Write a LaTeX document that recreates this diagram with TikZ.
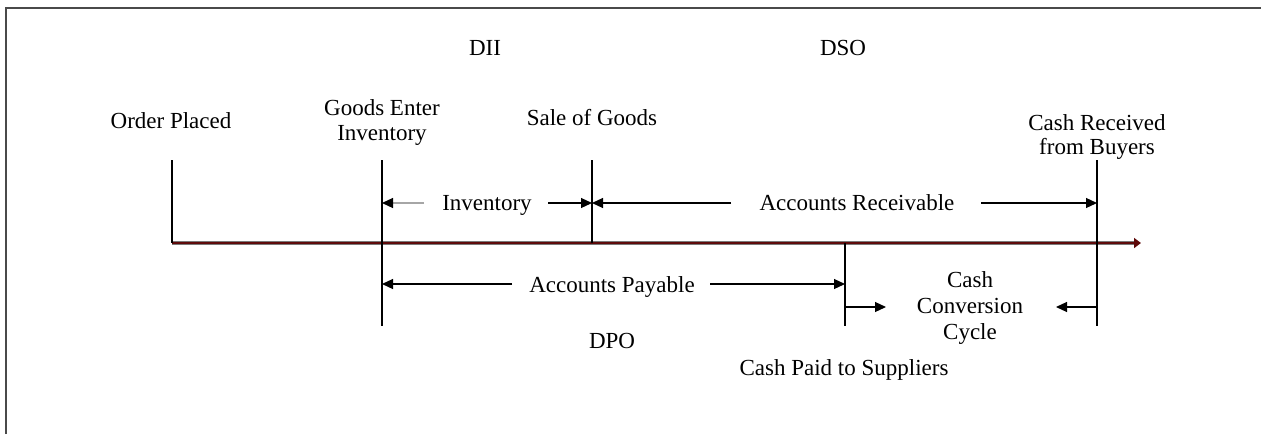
\documentclass[tikz,border=0pt]{standalone}
\usepackage{fontspec}
\setmainfont{Liberation Serif}
\usetikzlibrary{arrows.meta}
\definecolor{axisred}{HTML}{5E0A0A}
\definecolor{axisgray}{HTML}{7A7A7A}
\definecolor{framegray}{HTML}{4A4A4A}
\begin{document}
\begin{tikzpicture}[x=1pt,y=-1pt,
  lbl/.style={inner sep=0pt,anchor=base,align=center,font=\fontsize{23}{25}\selectfont,text=black},
  tick/.style={line width=1.3pt,black},
  span/.style={line width=1.2pt,black,-{Triangle[length=11pt,width=10pt]}},
  grayspan/.style={line width=1.2pt,black!35,-{Triangle[length=11pt,width=10pt,color=black]}},
  framestyle/.style={line width=1.5pt,framegray}]
\useasboundingbox (0,0) rectangle (1261,434);
% frame
\coordinate (fTL) at (6,8);
\coordinate (fTR) at (1261,8);
\coordinate (fBL) at (6,434);
\draw[framestyle] (fBL) -- (fTL) -- (fTR);
% axis
\coordinate (axS) at (172,243);
\coordinate (axE) at (1141,243);
\draw[line width=4.2pt,axisgray] (axS) -- ([xshift=-6]axE);
\draw[line width=2.6pt,axisred,-{Triangle[length=7pt,width=10pt]}] (axS) -- (axE);
% ticks
\coordinate (opT) at (172,160); \coordinate (opB) at (172,243);
\coordinate (geT) at (382,160); \coordinate (geB) at (382,326);
\coordinate (sgT) at (592,160); \coordinate (sgB) at (592,243);
\coordinate (cpT) at (845,243); \coordinate (cpB) at (845,326);
\coordinate (crT) at (1097,160); \coordinate (crB) at (1097,326);
\draw[tick] (opT) -- (opB);
\draw[tick] (geT) -- (geB);
\draw[tick] (sgT) -- (sgB);
\draw[tick] (cpT) -- (cpB);
\draw[tick] (crT) -- (crB);
% top labels
\node[lbl] (dii) at (485,55) {DII};
\node[lbl] (dso) at (843,55) {DSO};
\node[lbl] (op) at (171,128) {Order Placed};
\node[lbl] (ge1) at (382,115) {Goods Enter};
\node[lbl] (ge2) at (382,140) {Inventory};
\node[lbl] (sg) at (592,125) {Sale of Goods};
\node[lbl] (cr1) at (1097,130) {Cash Received};
\node[lbl] (cr2) at (1097,154) {from Buyers};
% span labels
\node[lbl] (inv) at (487,210) {Inventory};
\node[lbl] (ar) at (857,210) {Accounts Receivable};
\node[lbl] (ap) at (612,292) {Accounts Payable};
\node[lbl] (dpo) at (612,348) {DPO};
\node[lbl] (cpaid) at (844,375) {Cash Paid to Suppliers};
\node[lbl] (ccc1) at (970,287) {Cash};
\node[lbl] (ccc2) at (970,313) {Conversion};
\node[lbl] (ccc3) at (970,339) {Cycle};
% span arrows
\coordinate (invL) at (382,203); \coordinate (invR) at (592,203);
\coordinate (invLt) at (424,203); \coordinate (invRt) at (548,203);
\draw[grayspan] (invLt) -- (invL);
\draw[span] (invRt) -- (invR);
\coordinate (arL) at (592,203); \coordinate (arR) at (1097,203);
\coordinate (arLt) at (731,203); \coordinate (arRt) at (981,203);
\draw[span] (arLt) -- (arL);
\draw[span] (arRt) -- (arR);
\coordinate (apL) at (382,284); \coordinate (apR) at (845,284);
\coordinate (apLt) at (512,284); \coordinate (apRt) at (710,284);
\draw[span] (apLt) -- (apL);
\draw[span] (apRt) -- (apR);
\coordinate (cccL) at (845,307); \coordinate (cccR) at (1097,307);
\coordinate (cccLt) at (886,307); \coordinate (cccRt) at (1056,307);
\draw[span] (cccL) -- (cccLt);
\draw[span] (cccR) -- (cccRt);
\end{tikzpicture}
\end{document}
